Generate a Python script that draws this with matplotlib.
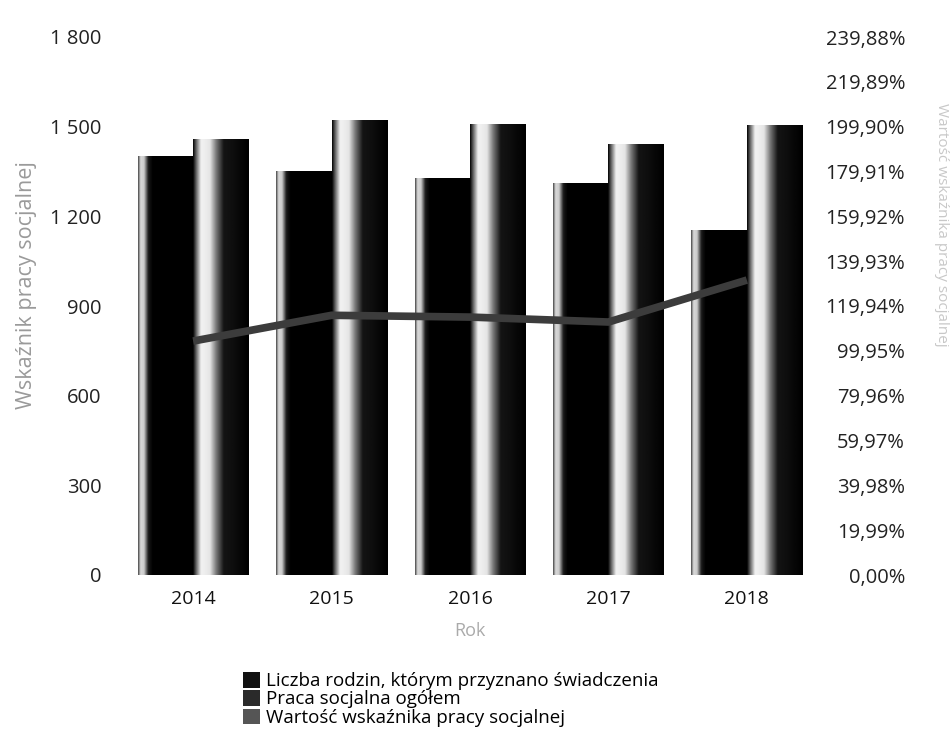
import numpy as np
import matplotlib as mpl
mpl.rcParams['font.family'] = ['Open Sans', 'DejaVu Sans']
import matplotlib.pyplot as plt
from matplotlib.patches import Patch

# data
years = ['2014', '2015', '2016', '2017', '2018']
rodziny = [1400, 1350, 1326, 1310, 1152]      # Liczba rodzin, którym przyznano świadczenia
praca = [1457, 1521, 1508, 1441, 1504]        # Praca socjalna ogółem
wskaznik = [104.3, 115.8, 115.0, 112.8, 131.5]  # Wartość wskaźnika pracy socjalnej (%)

left_ticks = [0, 300, 600, 900, 1200, 1500, 1800]
left_labels = ['0', '300', '600', '900', '1 200', '1 500', '1 800']
right_step = 19.99
right_ticks = [right_step * k for k in range(13)]
right_labels = [('%.2f' % v).replace('.', ',') + '%' for v in right_ticks]

# scanned "cylinder" shading across each bar (0 = black, 1 = white)
shade_pos = [0.0, 0.04, 0.10, 0.18, 0.26, 1.0]
shade_dark = [0.35, 0.85, 0.80, 0.10, 0.0, 0.0]
shade_pos2 = [0.0, 0.06, 0.14, 0.30, 0.42, 0.55, 0.75, 1.0]
shade_light = [0.05, 0.45, 0.95, 0.90, 0.45, 0.08, 0.05, 0.0]

fig = plt.figure(figsize=(9.52, 7.38), dpi=100, facecolor='w')
ax = fig.add_axes([135/952, 1-575/738, 670/952, 538/738])

x = np.arange(len(years))
w = 0.4


def shaded_bar(ax, xc, h, pos, vals):
    u = np.linspace(0, 1, 60)
    row = np.interp(u, pos, vals)
    img = np.tile(row, (2, 1))
    ax.imshow(img, extent=(xc - w/2, xc + w/2, 0, h), cmap='gray', vmin=0, vmax=1,
              aspect='auto', origin='lower', interpolation='bilinear', zorder=2)


for i in range(len(years)):
    shaded_bar(ax, x[i] - w/2, rodziny[i], shade_pos, shade_dark)
    shaded_bar(ax, x[i] + w/2, praca[i], shade_pos2, shade_light)

ax.set_xlim(-0.42, 4.42)
ax.set_ylim(0, 1800)
ax.set_xticks(x)
ax.set_xticklabels(years, fontsize=14, color='#111')
ax.set_yticks(left_ticks)
ax.set_yticklabels(left_labels, fontsize=14.5, color='#222')
ax.tick_params(axis='x', length=0, pad=11)
ax.tick_params(axis='y', length=0, pad=24)
for s in ax.spines.values():
    s.set_visible(False)
ax.set_xlabel('Rok', fontsize=13, color='#aaaaaa', labelpad=10)

ax2 = ax.twinx()
ax2.set_ylim(0, 239.88)
ax2.plot(x, wskaznik, color='#3c3c3c', lw=5.5, solid_capstyle='butt', zorder=3)
ax2.set_yticks(right_ticks)
ax2.set_yticklabels(right_labels, fontsize=14.5, color='#222', ha='right')
ax2.tick_params(axis='y', length=0, pad=72)
for s in ax2.spines.values():
    s.set_visible(False)
ax2.set_xlim(-0.42, 4.42)

fig.text(27/952, 1-285/738, 'Wskaźnik pracy socjalnej', rotation=90, fontsize=15.5,
         color='#9a9a9a', ha='center', va='center')
fig.text(941/952, 1-225/738, 'Wartość wskaźnika pracy socjalnej', rotation=270,
         fontsize=11, color='#c8c8c8', ha='center', va='center')

handles = [Patch(facecolor='#111111', edgecolor='none'),
           Patch(facecolor='#2a2a2a', edgecolor='none'),
           Patch(facecolor='#555555', edgecolor='none')]
labels = ['Liczba rodzin, którym przyznano świadczenia',
          'Praca socjalna ogółem',
          'Wartość wskaźnika pracy socjalnej']
fig.legend(handles, labels, loc='upper left', bbox_to_anchor=(243/952, 1-672/738),
           frameon=False, fontsize=13.5, handlelength=0.9, handleheight=0.9,
           handletextpad=0.3, labelspacing=0.0, borderpad=0, borderaxespad=0)

fig.savefig('out.png', dpi=100)
